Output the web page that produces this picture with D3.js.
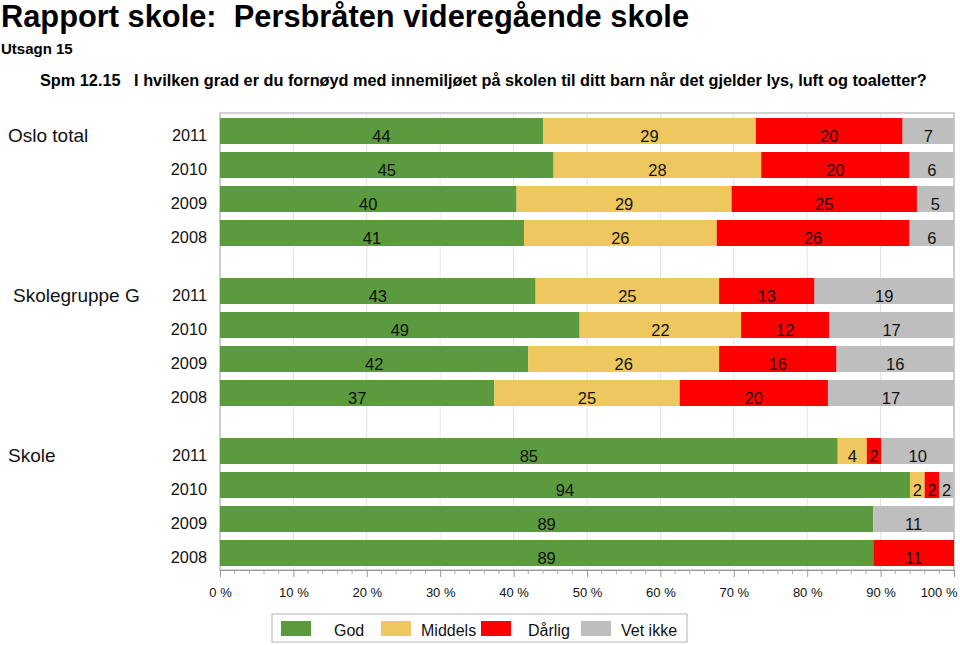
<!DOCTYPE html>
<html><head><meta charset="utf-8">
<script src="https://cdn.jsdelivr.net/npm/d3@7"></script>
<style>
body{margin:0;background:#fff;}
text{font-family:"Liberation Sans",Arial,Helvetica,sans-serif;}
</style></head>
<body>
<svg id="c" width="960" height="645"></svg>
<script>
const groups = ["Oslo total", "Skolegruppe G", "Skole"];
const years = ["2011", "2010", "2009", "2008"];
const seriesNames = ["God", "Middels", "Dårlig", "Vet ikke"];
const seriesColors = ["#5B9A3F", "#EEC75E", "#FF0000", "#BEBEBE"];
// values per group, per year [God, Middels, Dårlig, Vet ikke]
const osloTotal = [[44,29,20,7],[45,28,20,6],[40,29,25,5],[41,26,26,6]];
const skolegruppeG = [[43,25,13,19],[49,22,12,17],[42,26,16,16],[37,25,20,17]];
const skole = [[85,4,2,10],[94,2,2,2],[89,0,0,11],[89,0,11,0]];
const xTicks = [0,10,20,30,40,50,60,70,80,90,100];

const groupValues = [osloTotal, skolegruppeG, skole];
const rows = [];
groups.forEach((g,gi)=>years.forEach((y,yi)=>{
  const vals = groupValues[gi][yi];
  const tot = d3.sum(vals);
  let acc = 0;
  const segs = vals.map((v,si)=>{ const s={g,y,si,v,x0:acc/tot*100,x1:(acc+v)/tot*100}; acc+=v; return s;});
  rows.push({g,y,segs});
}));

const svg = d3.select("#c");
const L=220, R=954, T=114, B=570;
const x = d3.scaleLinear().domain([0,100]).range([L,R]);
const gBand = d3.scaleBand().domain(groups).range([T,B]).paddingInner(24/160).paddingOuter(0);
const yBand = d3.scaleBand().domain(years).range([0,gBand.bandwidth()]).paddingInner(8/34).paddingOuter(4/34);

// titles
svg.append("text").attr("x",1).attr("y",27).attr("font-size",30.8).attr("font-weight","bold").style("white-space","pre")
  .text("Rapport skole:  Persbråten videregående skole");
svg.append("text").attr("x",1).attr("y",54).attr("font-size",15).attr("font-weight","bold").text("Utsagn 15");
svg.append("text").attr("x",40).attr("y",86).attr("font-size",16.3).attr("font-weight","bold").style("white-space","pre")
  .text("Spm 12.15   I hvilken grad er du fornøyd med innemiljøet på skolen til ditt barn når det gjelder lys, luft og toaletter?");

// grid
svg.append("g").selectAll("line").data(xTicks).join("line")
  .attr("x1",d=>x(d)).attr("x2",d=>x(d)).attr("y1",T).attr("y2",B)
  .attr("stroke","#e2e2e2").attr("stroke-width",1);

// frame
svg.append("rect").attr("x",L).attr("y",T-1).attr("width",R-L).attr("height",B-T+1)
  .attr("fill","none").attr("stroke","#b4b4b4").attr("stroke-width",1.2);

// bars
const rowG = svg.append("g").selectAll("g").data(rows).join("g")
  .attr("transform",d=>`translate(0,${gBand(d.g)+yBand(d.y)})`);
rowG.selectAll("rect").data(d=>d.segs).join("rect")
  .attr("x",d=>x(d.x0)).attr("width",d=>x(d.x1)-x(d.x0))
  .attr("y",0).attr("height",yBand.bandwidth())
  .attr("fill",d=>seriesColors[d.si]);
rowG.selectAll("text.v").data(d=>d.segs.filter(s=>s.v>0)).join("text").attr("class","v")
  .attr("x",d=>(x(d.x0)+x(d.x1))/2).attr("y",yBand.bandwidth()/2).attr("dy","0.64em")
  .attr("text-anchor","middle").attr("font-size",16.5)
  .attr("fill",d=>d.si===2?"#1a0000":"#111").text(d=>d.v);

// year labels
svg.append("g").selectAll("text").data(rows).join("text")
  .attr("x",207).attr("y",d=>gBand(d.g)+yBand(d.y)+yBand.bandwidth()/2).attr("dy","0.64em")
  .attr("text-anchor","end").attr("font-size",16.3).attr("fill","#111").text(d=>d.y);
// group labels
svg.append("g").selectAll("text").data(groups).join("text")
  .attr("x",(d,i)=>i===1?13:8).attr("y",d=>gBand(d)+yBand(years[0])+yBand.bandwidth()/2).attr("dy","0.57em")
  .attr("font-size",19).attr("fill","#111").text(d=>d);

// x axis
const axis = d3.axisBottom(x).tickValues(xTicks).tickSize(7).tickFormat(d=>d+" %");
const ax = svg.append("g").attr("transform",`translate(0,${B})`).call(axis);
ax.select(".domain").attr("stroke","#999");
ax.selectAll(".tick line").attr("stroke","#999");
ax.selectAll(".tick text").attr("font-size",13).attr("fill","#111").attr("y",18).attr("dy","0.71em")
  .attr("font-family","Liberation Sans, Arial, sans-serif");
ax.selectAll(".tick text").filter(d=>d===100).attr("text-anchor","end").attr("dx",3);
const minor = d3.range(0,101,2).filter(v=>v%10!==0);
svg.append("g").selectAll("line").data(minor).join("line")
  .attr("x1",d=>x(d)).attr("x2",d=>x(d)).attr("y1",B).attr("y2",B+4).attr("stroke","#aaa");

// legend
const lg = svg.append("g").attr("transform","translate(272,614)");
lg.append("rect").attr("x",0).attr("y",0).attr("width",415).attr("height",28)
  .attr("fill","#fff").attr("stroke","#b4b4b4");
const item = lg.selectAll("g").data(seriesNames).join("g")
  .attr("transform",(d,i)=>`translate(${9+i*100},0)`);
item.append("rect").attr("x",0).attr("y",7).attr("width",30).attr("height",15).attr("fill",(d,i)=>seriesColors[i]);
item.append("text").attr("x",(d,i)=>[53,40,47,40][i]).attr("y",22).attr("font-size",16).attr("fill","#111").text(d=>d);
</script>
</body></html>
